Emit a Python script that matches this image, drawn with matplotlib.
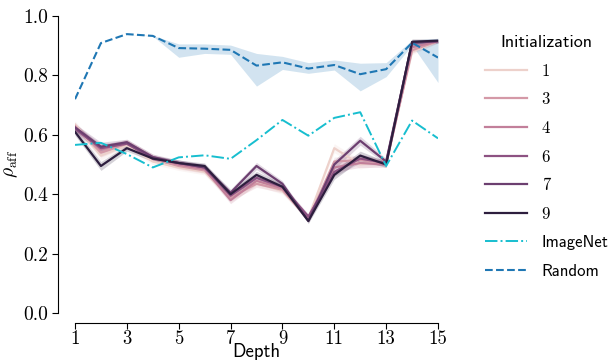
import numpy as np
import matplotlib
matplotlib.use("Agg")
import matplotlib.pyplot as plt
import seaborn as sns
from matplotlib.ticker import FuncFormatter

plt.rcParams['mathtext.fontset'] = 'cm'
plt.rcParams['font.family'] = ['cmr10', 'DejaVu Serif']
plt.rcParams['axes.unicode_minus'] = False
plt.rcParams['axes.formatter.use_mathtext'] = False
SANS = ['cmss10', 'DejaVu Sans']

depth = np.arange(1, 16)
init_levels = [1, 3, 4, 6, 7, 9]
init_values = {
    1: [0.635, 0.53, 0.565, 0.51, 0.49, 0.475, 0.385, 0.44, 0.41, 0.32, 0.555, 0.50, 0.51, 0.88, 0.915],
    3: [0.63, 0.54, 0.57, 0.52, 0.495, 0.48, 0.39, 0.435, 0.415, 0.315, 0.51, 0.515, 0.505, 0.885, 0.915],
    4: [0.625, 0.55, 0.575, 0.525, 0.50, 0.485, 0.38, 0.445, 0.42, 0.32, 0.49, 0.505, 0.50, 0.895, 0.915],
    6: [0.62, 0.555, 0.57, 0.52, 0.505, 0.49, 0.395, 0.455, 0.425, 0.325, 0.475, 0.52, 0.505, 0.91, 0.915],
    7: [0.625, 0.56, 0.575, 0.525, 0.505, 0.49, 0.405, 0.495, 0.435, 0.31, 0.50, 0.58, 0.51, 0.91, 0.915],
    9: [0.61, 0.495, 0.555, 0.52, 0.505, 0.495, 0.40, 0.465, 0.425, 0.31, 0.465, 0.53, 0.50, 0.913, 0.917],
}
init_spread = [0.012, 0.015, 0.01, 0.01, 0.01, 0.01, 0.012, 0.012, 0.01, 0.008, 0.015, 0.015, 0.01, 0.01, 0.006]

imagenet = [0.566, 0.573, 0.535, 0.49, 0.524, 0.531, 0.519, 0.582, 0.65, 0.597, 0.657, 0.676, 0.495, 0.648, 0.588]

random_mean = [0.72, 0.909, 0.939, 0.933, 0.892, 0.89, 0.886, 0.833, 0.844, 0.823, 0.835, 0.804, 0.821, 0.91, 0.86]
random_low = [0.72, 0.909, 0.939, 0.932, 0.861, 0.874, 0.871, 0.764, 0.82, 0.807, 0.818, 0.748, 0.796, 0.902, 0.776]
random_high = [0.72, 0.909, 0.939, 0.934, 0.906, 0.906, 0.902, 0.874, 0.864, 0.843, 0.852, 0.841, 0.843, 0.919, 0.925]

W, H = 616, 360
fig = plt.figure(figsize=(W / 100, H / 100), dpi=100)
ax = fig.add_axes([75 / W, (H - 313) / H, (438 - 75) / W, (313 - 16) / H])

cmap = sns.color_palette("ch:", as_cmap=True)
norm = plt.Normalize(min(init_levels), max(init_levels))

handles = []
for lev in init_levels:
    c = cmap(norm(lev))
    v = np.array(init_values[lev])
    s = np.array(init_spread)
    ax.fill_between(depth, v - s, v + s, color=c, alpha=0.2, lw=0)
    h, = ax.plot(depth, v, color=c, lw=1.6)
    handles.append((h, str(lev)))

hi, = ax.plot(depth, imagenet, color='#17becf', lw=1.4, ls='-.')
handles.append((hi, "ImageNet"))
ax.fill_between(depth, random_low, random_high, color='#1f77b4', alpha=0.2, lw=0)
hr, = ax.plot(depth, random_mean, color='#1f77b4', lw=1.5, ls='--')
handles.append((hr, "Random"))

ax.set_xlim(1, 15)
ax.set_ylim(0, 1)
ax.set_xticks(np.arange(1, 16, 2))
ax.set_yticks(np.arange(0, 1.01, 0.2))
ax.xaxis.set_major_formatter(FuncFormatter(lambda v, p: f"{int(v)}"))
ax.yaxis.set_major_formatter(FuncFormatter(lambda v, p: f"{v:.1f}"))
ax.tick_params(labelsize=14, length=4)
ax.tick_params(axis='x', pad=1, labelsize=13.5)
for side in ['top', 'right']:
    ax.spines[side].set_visible(False)
ax.spines['left'].set_position(('outward', 12))
ax.spines['bottom'].set_position(('outward', 7))
ax.set_xlabel("Depth", fontsize=13.5, labelpad=-3, family=SANS)
ax.set_ylabel(r"$\rho_{\mathrm{aff}}$", fontsize=14, labelpad=2)

leg = fig.legend([h for h, _ in handles], [l for _, l in handles], title="Initialization",
                 loc='upper left', bbox_to_anchor=(470 / W, 1 - 20 / H), frameon=False,
                 prop={'size': 12, 'family': SANS}, title_fontproperties={'size': 13, 'family': SANS},
                 labelspacing=0.8, handlelength=2.5, handletextpad=0.9)
for t in leg.get_texts():
    if t.get_text().isdigit():
        t.set_fontfamily('cmr10')

fig.savefig("out.png", dpi=100)
